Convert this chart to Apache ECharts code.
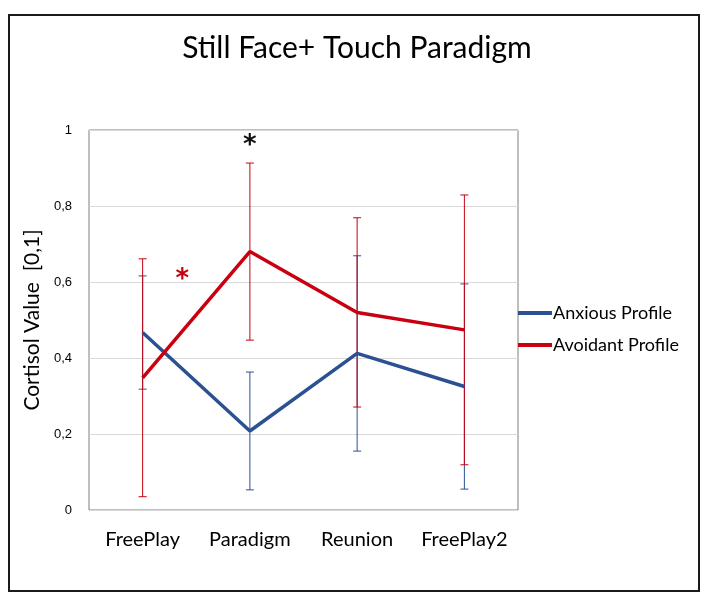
<!DOCTYPE html>
<html>
<head>
<meta charset="utf-8">
<script src="https://cdn.jsdelivr.net/npm/echarts@6/dist/echarts.min.js"></script>
<style>
  html, body { margin: 0; padding: 0; background: #fff; }
  #chart { width: 714px; height: 607px; }
</style>
</head>
<body>
<div id="chart"></div>
<script>
var categories = ['FreePlay', 'Paradigm', 'Reunion', 'FreePlay2'];
var yTicks = [0, 0.2, 0.4, 0.6, 0.8, 1];

var anxious = [0.467, 0.208, 0.412, 0.325];
var anxiousErr = [0.149, 0.155, 0.257, 0.270];

var avoidant = [0.348, 0.680, 0.520, 0.474];
var avoidantErr = [0.313, 0.233, 0.249, 0.355];

// asterisks: [category index, fraction of a band to the right, value, colour]
var stars = [
    [1, 0, 0.956, '#111111'],
    [0, 0.37, 0.605, '#c8000f']
];

var blue = '#2b5192';
var red = '#c8000f';

function errorData(values, errs) {
    var out = [];
    for (var i = 0; i < values.length; i++) {
        out.push([i, values[i] - errs[i], values[i] + errs[i]]);
    }
    return out;
}

function errorBar(color) {
    return function (params, api) {
        var lo = api.coord([api.value(0), api.value(1)]);
        var hi = api.coord([api.value(0), api.value(2)]);
        var half = 4;
        var style = { stroke: color, lineWidth: 1 };
        return {
            type: 'group',
            children: [
                { type: 'line', shape: { x1: lo[0], y1: lo[1], x2: hi[0], y2: hi[1] }, style: style },
                { type: 'line', shape: { x1: lo[0] - half, y1: lo[1], x2: lo[0] + half, y2: lo[1] }, style: style },
                { type: 'line', shape: { x1: hi[0] - half, y1: hi[1], x2: hi[0] + half, y2: hi[1] }, style: style }
            ]
        };
    };
}

var myChart = echarts.init(document.getElementById('chart'));

var option = {
    animation: false,
    color: [blue, red],
    title: {
        text: 'Still Face+ Touch Paradigm',
        left: 'center',
        top: 28,
        textStyle: { fontFamily: 'Lato', fontWeight: 'normal', fontSize: 30, color: '#000' }
    },
    legend: {
        orient: 'vertical',
        left: 518,
        top: 304,
        padding: 0,
        itemGap: 14,
        icon: 'rect',
        itemWidth: 34,
        itemHeight: 4,
        data: [
            { name: 'Anxious Profile', itemStyle: { color: blue } },
            { name: 'Avoidant Profile', itemStyle: { color: red } }
        ],
        textStyle: { fontFamily: 'Lato', fontSize: 18, color: '#000', padding: [0, 0, 0, -4] }
    },
    grid: {
        left: 89,
        top: 130,
        right: 196,
        bottom: 97,
        show: true,
        borderColor: '#7f7f7f',
        borderWidth: 1
    },
    xAxis: {
        type: 'category',
        data: categories,
        boundaryGap: true,
        axisLine: { show: false },
        axisTick: { show: false },
        axisLabel: { interval: 0, fontFamily: 'Lato', fontSize: 20, color: '#000', margin: 20 }
    },
    yAxis: {
        type: 'value',
        min: yTicks[0],
        max: yTicks[yTicks.length - 1],
        interval: 0.2,
        name: 'Cortisol Value  [0,1]',
        nameLocation: 'middle',
        nameGap: 42,
        nameTextStyle: { fontFamily: 'Lato', fontSize: 21, color: '#000' },
        axisLine: { show: false },
        axisTick: { show: false },
        splitLine: { lineStyle: { color: '#d9d9d9', width: 1 } },
        axisLabel: {
            fontFamily: 'Liberation Sans',
            fontSize: 13,
            color: '#000',
            margin: 17,
            formatter: function (v) { return String(Math.round(v * 10) / 10).replace('.', ','); }
        }
    },
    series: [
        {
            name: 'Anxious Profile',
            type: 'custom',
            renderItem: errorBar(blue),
            itemStyle: { color: blue },
            data: errorData(anxious, anxiousErr),
            z: 1,
            silent: true
        },
        {
            name: 'Avoidant Profile',
            type: 'custom',
            renderItem: errorBar(red),
            itemStyle: { color: red },
            data: errorData(avoidant, avoidantErr),
            z: 1,
            silent: true
        },
        {
            name: 'Anxious Profile',
            type: 'line',
            data: anxious,
            symbol: 'none',
            itemStyle: { color: blue },
            lineStyle: { color: blue, width: 3.5 },
            z: 3
        },
        {
            name: 'Avoidant Profile',
            type: 'line',
            data: avoidant,
            symbol: 'none',
            itemStyle: { color: red },
            lineStyle: { color: red, width: 3.5 },
            z: 4
        },
        {
            type: 'custom',
            silent: true,
            data: stars,
            z: 5,
            renderItem: function (params, api) {
                var s = stars[params.dataIndex];
                var p = api.coord([s[0], s[2]]);
                var band = api.size([1, 0])[0];
                return {
                    type: 'text',
                    x: p[0] + s[1] * band,
                    y: p[1],
                    style: {
                        text: '*',
                        fill: s[3],
                        font: 'bold 26px "DejaVu Sans"',
                        align: 'center',
                        verticalAlign: 'middle'
                    }
                };
            }
        }
    ],
    graphic: [
        {
            type: 'rect',
            shape: { x: 9, y: 15, width: 690, height: 576 },
            style: { fill: 'none', stroke: '#1a1a1a', lineWidth: 2 },
            silent: true
        }
    ]
};
myChart.setOption(option);
</script>
</body>
</html>
